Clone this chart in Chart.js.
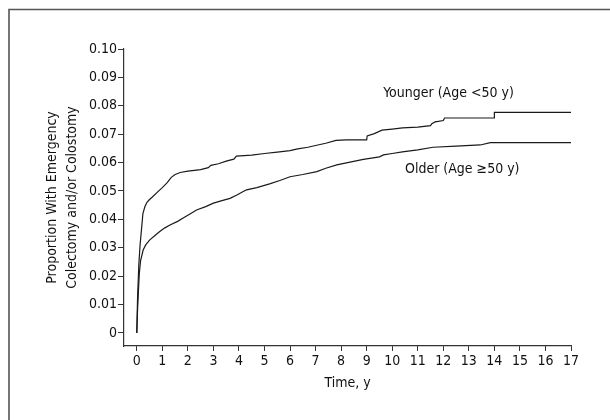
<!DOCTYPE html>
<html>
<head>
<meta charset="utf-8">
<script src="https://cdn.jsdelivr.net/npm/chart.js@4"></script>
<style>
  body { margin: 0; background: #fff; }
  #wrap { width: 610px; height: 420px; position: relative; }
</style>
</head>
<body>
<div id="wrap"><canvas id="chart"></canvas></div>
<script>
var FONT = "'Liberation Sans Narrow', 'DejaVu Sans Condensed', 'Liberation Sans', sans-serif";

// time (years) and cumulative proportion
var youngerTime = [0, 0.03, 0.08, 0.13, 0.18, 0.24, 0.32, 0.4, 0.5, 0.6, 0.8, 1.0, 1.2, 1.35, 1.5, 1.7, 2.0, 2.5, 2.8, 2.9, 3.2, 3.5, 3.8, 3.9, 4.5, 5.0, 5.5, 6.0, 6.3, 6.7, 7.0, 7.4, 7.8, 8.2, 8.6, 9.0, 9.02, 9.3, 9.6, 10.0, 10.4, 11.0, 11.5, 11.55, 11.7, 11.75, 12.0, 12.05, 13.99, 14.0, 17.0];
var youngerVal = [0, 0.012, 0.024, 0.031, 0.036, 0.042, 0.0445, 0.046, 0.047, 0.0478, 0.0495, 0.0512, 0.053, 0.0548, 0.0558, 0.0565, 0.057, 0.0575, 0.0582, 0.059, 0.0596, 0.0605, 0.0612, 0.0623, 0.0626, 0.0632, 0.0637, 0.0642, 0.0648, 0.0654, 0.066, 0.0668, 0.0678, 0.068, 0.068, 0.068, 0.0694, 0.0702, 0.0714, 0.0718, 0.0722, 0.0725, 0.073, 0.0737, 0.0744, 0.0744, 0.0748, 0.0757, 0.0757, 0.0777, 0.0777];

var olderTime = [0, 0.03, 0.06, 0.1, 0.15, 0.25, 0.35, 0.5, 0.7, 0.9, 1.1, 1.3, 1.6, 1.8, 2.1, 2.34, 2.7, 3.0, 3.3, 3.65, 3.9, 4.17, 4.3, 4.7, 5.2, 5.6, 6.0, 6.5, 7.05, 7.4, 7.83, 8.3, 8.87, 9.5, 9.66, 10.0, 10.4, 11.0, 11.6, 12.5, 13.45, 13.84, 17.0];
var olderVal = [0, 0.008, 0.014, 0.021, 0.0255, 0.0292, 0.031, 0.0327, 0.0342, 0.0357, 0.037, 0.038, 0.0393, 0.0404, 0.042, 0.0433, 0.0445, 0.0457, 0.0465, 0.0474, 0.0485, 0.0498, 0.0504, 0.0512, 0.0525, 0.0537, 0.055, 0.0558, 0.0568, 0.058, 0.0592, 0.0601, 0.0611, 0.062, 0.0627, 0.0632, 0.0638, 0.0645, 0.0654, 0.0658, 0.0662, 0.067, 0.067];

var xTicks = [0, 1, 2, 3, 4, 5, 6, 7, 8, 9, 10, 11, 12, 13, 14, 15, 16, 17];
var yTicks = [0, 0.01, 0.02, 0.03, 0.04, 0.05, 0.06, 0.07, 0.08, 0.09, 0.10];
var yTickLabels = ['0', '0.01', '0.02', '0.03', '0.04', '0.05', '0.06', '0.07', '0.08', '0.09', '0.10'];

function pairs(xs, ys) {
  return xs.map(function(x, i) { return {x: x, y: ys[i]}; });
}

var frame = {
  id: 'frame',
  beforeDraw: function(chart) {
    var ctx = chart.ctx;
    ctx.save();
    ctx.strokeStyle = '#555';
    ctx.lineWidth = 1.6;
    ctx.beginPath();
    ctx.moveTo(9, 430);
    ctx.lineTo(9, 9.5);
    ctx.lineTo(620, 9.5);
    ctx.stroke();
    ctx.restore();
  },
  afterDraw: function(chart) {
    var ctx = chart.ctx;
    var xs = chart.scales.x, ys = chart.scales.y;
    ctx.save();
    ctx.fillStyle = '#111';
    ctx.font = '14px ' + FONT;
    ctx.textAlign = 'left';
    ctx.textBaseline = 'middle';
    ctx.fillText('Younger (Age <50 y)', xs.getPixelForValue(9.65), ys.getPixelForValue(0.0845));
    ctx.fillText('Older (Age \u226550 y)', xs.getPixelForValue(10.5), ys.getPixelForValue(0.0577));
    ctx.restore();
  }
};

var lineStyle = {borderColor: '#1a1a1a', borderWidth: 1.2, pointRadius: 0, tension: 0, fill: false};

new Chart('chart', {
  type: 'line',
  data: {
    datasets: [
      Object.assign({label: 'Younger', data: pairs(youngerTime, youngerVal)}, lineStyle),
      Object.assign({label: 'Older', data: pairs(olderTime, olderVal)}, lineStyle)
    ]
  },
  options: {
    responsive: true,
    maintainAspectRatio: false,
    animation: false,
    layout: {padding: {top: 49, right: 39, left: 0, bottom: 0}},
    plugins: {legend: {display: false}, tooltip: {enabled: false}},
    scales: {
      x: {
        type: 'linear',
        min: -0.5,
        max: 17,
        afterBuildTicks: function(s) { s.ticks = xTicks.map(function(v) { return {value: v}; }); },
        afterFit: function(s) { s.height = 74; },
        grid: {display: true, drawOnChartArea: false, drawTicks: true, tickLength: 5, color: '#333'},
        border: {display: true, color: '#333', width: 1.2},
        ticks: {color: '#111', font: {family: FONT, size: 14}, padding: 2, maxRotation: 0, autoSkip: false,
          callback: function(v) { return String(v); }},
        title: {display: true, text: 'Time, y', color: '#111', font: {family: FONT, size: 14, lineHeight: '20px'},
          padding: {top: 0, bottom: 27}}
      },
      y: {
        type: 'linear',
        min: -0.0046,
        max: 0.10,
        afterBuildTicks: function(s) { s.ticks = yTicks.map(function(v) { return {value: v}; }); },
        afterFit: function(s) { s.width = 124; },
        grid: {display: true, drawOnChartArea: false, drawTicks: true, tickLength: 6, color: '#333'},
        border: {display: true, color: '#333', width: 1.2},
        ticks: {color: '#111', font: {family: FONT, size: 14}, padding: 1, autoSkip: false,
          callback: function(v, i) { return yTickLabels[yTicks.indexOf(v)]; }},
        title: {display: true, text: ['Proportion With Emergency', 'Colectomy and/or Colostomy'], color: '#111',
          font: {family: FONT, size: 14, lineHeight: '20px'}, padding: {top: 42, bottom: 0}}
      }
    }
  },
  plugins: [frame]
});
</script>
</body>
</html>
